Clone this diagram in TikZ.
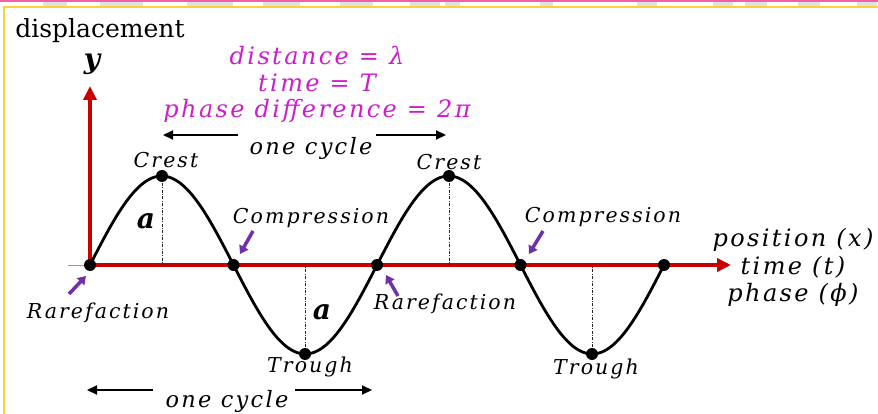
\documentclass[tikz,border=0pt]{standalone}
\usepackage{fontspec}
\setmainfont{DejaVu Serif}
\newfontfamily\lbl[LetterSpace=10]{DejaVu Serif}
\usetikzlibrary{arrows.meta}
\definecolor{axred}{RGB}{200,0,0}
\definecolor{mag}{RGB}{204,30,204}
\definecolor{purp}{RGB}{112,48,170}
\definecolor{pinkline}{RGB}{238,100,160}
\definecolor{yel}{RGB}{250,210,50}
\begin{document}
\begin{tikzpicture}[x=1pt,y=-1pt,
  lab/.style={font=\lbl\itshape\fontsize{20.5}{24}\selectfont, inner sep=0pt},
  big/.style={font=\lbl\itshape\fontsize{22.5}{26}\selectfont, inner sep=0pt},
  side/.style={font=\lbl\itshape\fontsize{24}{28}\selectfont, inner sep=0pt},
  magtext/.style={font=\lbl\itshape\fontsize{24}{28}\selectfont, text=mag, inner sep=0pt},
  amp/.style={font=\lbl\bfseries\itshape\fontsize{28}{30}\selectfont, inner sep=0pt},
  dot/.style={circle, fill=black, inner sep=0pt, minimum size=12pt},
  wave/.style={line width=2.8pt},
  axis/.style={draw=axred, line width=4pt, -{Triangle[length=14pt,width=13pt]}},
  cyc/.style={line width=2.2pt, -{Triangle[length=10pt,width=9pt]}},
  parrow/.style={draw=purp, line width=3.5pt, -{Triangle[length=8pt,width=10pt]}},
  guide/.style={line width=1pt, dash pattern=on 3pt off 1.5pt on 0.8pt off 1.5pt, draw=black!85}
]
\useasboundingbox (0,0) rectangle (878,414);
\fill[white] (0,0) rectangle (878,414);
% frame decorations
\foreach \a/\b in {43/67,100/143,187/233,263/300,340/373,410/440,445/460,540/553,637/657,713/733,745/767,798/820,857/877}
  \fill[black!12] (\a,2.5) rectangle (\b,6);
\draw[pinkline, line width=2pt] (0,1.5) -- (878,1.5);
\draw[yel, line width=2pt] (3,7) -- (878,7);
\draw[yel, line width=2pt] (4,7) -- (4,414);

% axes
\coordinate (O) at (90,265);
\coordinate (xend) at (731,265);
\coordinate (yend) at (90,86);
\coordinate (xstub) at (68,265);
\draw[black!40, line width=1pt] (xstub) -- (O);
\draw[axis] (O) -- (xend);
\draw[axis] (O) -- (yend);

% wave
\draw[wave] plot[domain=0:574, samples=240] ({90+\x},{265-89*sin(\x/287*360)});

% guides
\coordinate (c1) at (162,176);
\coordinate (c2) at (449,176);
\coordinate (t1) at (305,354);
\coordinate (t2) at (592,354);
\draw[guide] (c1) -- (c1 |- O);
\draw[guide] (c2) -- (c2 |- O);
\draw[guide] (t1) -- (t1 |- O);
\draw[guide] (t2) -- (t2 |- O);

% dots
\node[dot] (d0) at (90,265) {};
\node[dot] (d1) at (233.5,265) {};
\node[dot] (d2) at (377,265) {};
\node[dot] (d3) at (520.5,265) {};
\node[dot] (d4) at (664,265) {};
\node[dot] (dc1) at (c1) {};
\node[dot] (dc2) at (c2) {};
\node[dot] (dt1) at (t1) {};
\node[dot] (dt2) at (t2) {};

% labels
\node[font=\fontsize{25}{28}\selectfont, inner sep=0pt] (disp) at (100,31) {displacement};
\node[font=\bfseries\itshape\fontsize{28}{30}\selectfont, inner sep=0pt] (ylab) at (92,64) {y};

\node[magtext] (m1) at (317,55) {distance = λ};
\node[magtext] (m2) at (317,83) {time = T};
\node[magtext] (m3) at (317,111) {phase difference = 2π};

\node[big] (oc1) at (311,148) {one cycle};
\coordinate (oc1l) at (238,135);
\coordinate (oc1lt) at (163,135);
\coordinate (oc1r) at (376,135);
\coordinate (oc1rt) at (446,135);
\draw[cyc] (oc1l) -- (oc1lt);
\draw[cyc] (oc1r) -- (oc1rt);

\node[big] (oc2) at (227,401) {one cycle};
\coordinate (oc2l) at (153,390);
\coordinate (oc2lt) at (87,390);
\coordinate (oc2r) at (295,390);
\coordinate (oc2rt) at (372,390);
\draw[cyc] (oc2l) -- (oc2lt);
\draw[cyc] (oc2r) -- (oc2rt);

\node[lab] (cr1) at (166,160) {Crest};
\node[lab] (cr2) at (449,162) {Crest};
\node[lab] (tr1) at (310,367) {Trough};
\node[lab] (tr2) at (596,369) {Trough};
\node[lab] (co1) at (311,218) {Compression};
\node[lab] (co2) at (603,217) {Compression};
\node[lab] (ra1) at (98,313) {Rarefaction};
\node[lab] (ra2) at (445,304) {Rarefaction};
\node[amp] (a1) at (146,221) {a};
\node[amp] (a2) at (322,312) {a};

\node[side] (px) at (793,240) {position (x)};
\node[side] (pt) at (793,267) {time (t)};
\node[side] (pp) at (793,295) {phase (ϕ)};

% purple arrows
\coordinate (pa1s) at (69,294);
\coordinate (pa1e) at (86,276);
\coordinate (pa2s) at (253,231);
\coordinate (pa2e) at (240,254);
\coordinate (pa3s) at (398,296);
\coordinate (pa3e) at (386,275);
\coordinate (pa4s) at (543,231);
\coordinate (pa4e) at (529,254);
\draw[parrow] (pa1s) -- (pa1e);
\draw[parrow] (pa2s) -- (pa2e);
\draw[parrow] (pa3s) -- (pa3e);
\draw[parrow] (pa4s) -- (pa4e);
\end{tikzpicture}
\end{document}
